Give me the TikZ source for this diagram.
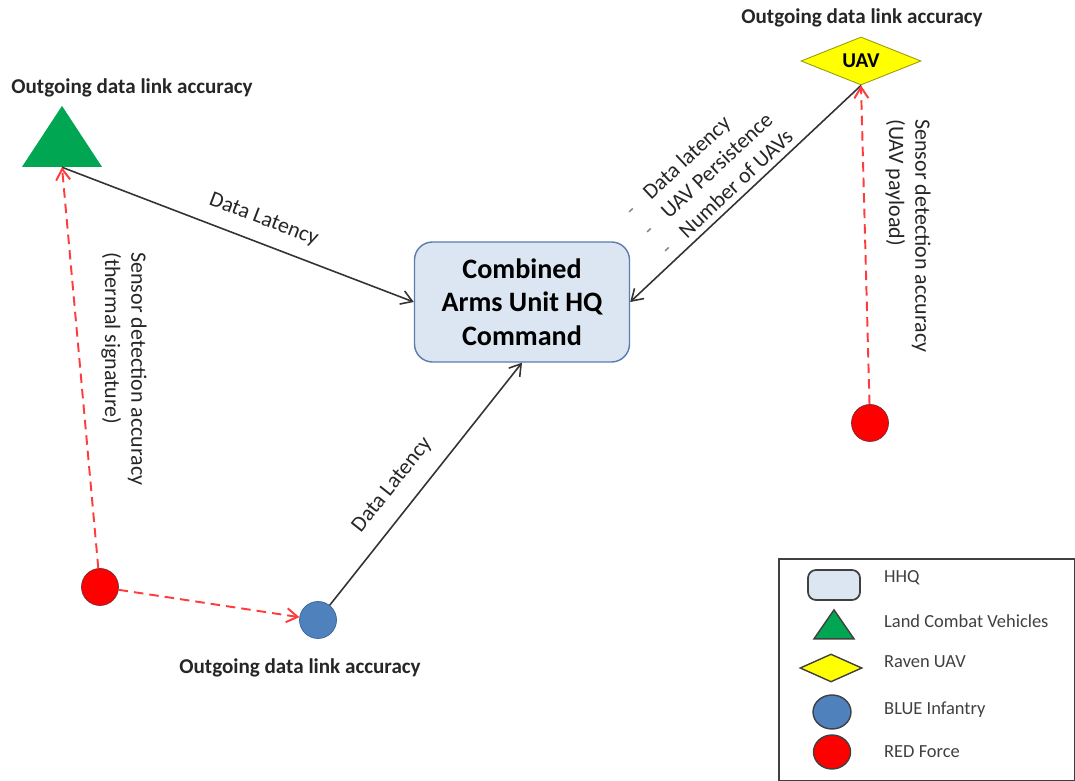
\documentclass[tikz,border=0pt]{standalone}
\usepackage{fontspec}
\setmainfont{Carlito}
\usetikzlibrary{arrows.meta,positioning,shapes.geometric,calc}
\definecolor{hqfill}{HTML}{DCE6F2}
\definecolor{hqborder}{HTML}{5B7CAD}
\definecolor{lcvgreen}{HTML}{00A651}
\definecolor{uavyellow}{HTML}{FFFF00}
\definecolor{uavborder}{HTML}{9A9A10}
\definecolor{bluefill}{HTML}{4F81BD}
\definecolor{blueborder}{HTML}{3A6396}
\definecolor{redfill}{HTML}{FF0000}
\definecolor{redborder}{HTML}{7A2A3A}
\definecolor{sensorred}{HTML}{FF3B3B}
\def \circDiam {7.4mm}
\def \legendTextX {878}
\tikzset{
	hqblock/.style= {draw=hqborder, rectangle, rounded corners=3.6mm, align=center, minimum width=43mm, minimum height=24mm, fill=hqfill, line width=0.8pt, font=\fontsize{16}{19}\selectfont\bfseries},
	lcvblock/.style= {isosceles triangle, isosceles triangle stretches, shape border rotate=90, fill=lcvgreen, inner sep=0pt, minimum width=16mm, minimum height=12.2mm},
	uavblock/.style= {diamond, aspect=2.5, fill=uavyellow, draw=uavborder, line width=0.5pt, inner sep=0pt, minimum width=24mm, minimum height=9.6mm, font=\fontsize{12}{14}\selectfont\bfseries},
	blueblock/.style= {circle, fill=bluefill, draw=blueborder, line width=0.4pt, minimum size=\circDiam, inner sep=0pt},
	redblock/.style= {circle, fill=redfill, draw=redborder, line width=0.4pt, minimum size=\circDiam, inner sep=0pt},
	outlabel/.style= {font=\fontsize{12}{14}\selectfont\bfseries, text=black!85},
	edgelabel/.style= {font=\fontsize{12.5}{15}\selectfont, text=black!85},
	sensorlabel/.style= {font=\fontsize{12.5}{15}\selectfont, text=black!85, align=left, rotate=-90, anchor=north west, inner sep=0pt},
	dataline/.style= {draw=black!80, line width=0.9pt, -{Straight Barb[length=2.2mm,width=2.8mm]}},
	sensorline/.style= {draw=sensorred, line width=1.1pt, dash pattern=on 1.9mm off 1.2mm, -{Straight Barb[length=2.2mm,width=2.8mm]}},
	legendtext/.style= {anchor=west, font=\fontsize{10.5}{12}\selectfont, text=black!75}
}

\begin{document}
\begin{tikzpicture}[x=0.2mm, y=-0.2mm]
	\useasboundingbox (0,0) rectangle (1075,781);

%%%%%%%%%%%%%%%%%%%%% Nodes %%%%%%%%%%%%%%%%%%%%%
	\node [hqblock] (hq) at (522,302) {Combined\\Arms Unit HQ\\Command};
	\node [lcvblock, anchor=apex] (lcv) at (62,105) {};
	\node [uavblock] (uav) at (861,61) {UAV};
	\node [blueblock] (blue) at (318,620) {};
	\node [redblock] (redL) at (100,587) {};
	\node [redblock] (redR) at (870,423) {};

	\node [outlabel] (lcvOut) at (132,88) {Outgoing data link accuracy};
	\node [outlabel] (uavOut) at (862,18) {Outgoing data link accuracy};
	\node [outlabel] (blueOut) at (300,668) {Outgoing data link accuracy};

	\node [sensorlabel] (lcvSensor) at (147,252) {Sensor detection accuracy\\(thermal signature)};
	\node [sensorlabel] (uavSensor) at (931,119) {Sensor detection accuracy\\(UAV payload)};

%%%%%%%%%%%%%%%%%%%%% Links %%%%%%%%%%%%%%%%%%%%%
	\draw [dataline] (lcv.lower side) -- (hq.west) node [edgelabel, pos=0.55, sloped, above=1.5mm] {Data Latency};
	\draw [dataline] (blue) -- (hq.south) node [edgelabel, pos=0.43, sloped, above=2mm] {Data Latency};
	\draw [dataline, {Straight Barb[length=2.2mm,width=2.8mm]}-] (hq.east) -- (uav.south) node [edgelabel, pos=0.46, sloped, above, align=left] {\makebox[5mm][l]{\textcolor{black!50}{-}}Data latency\\\makebox[5mm][l]{\textcolor{black!50}{-}}UAV Persistence\\\makebox[5mm][l]{\textcolor{black!50}{-}}Number of UAVs};

	\draw [sensorline] (redL) -- (lcv.lower side);
	\draw [sensorline] (redL) -- (blue);
	\draw [sensorline] (redR) -- (uav.south);

%%%%%%%%%%%%%%%%%%%%% Legend %%%%%%%%%%%%%%%%%%%%%
	\node [draw=black!75, line width=1pt, rectangle, anchor=north west, minimum width=59.2mm, minimum height=44.4mm, inner sep=0pt] (legend) at (778,558) {};
	\node [hqblock, draw=black!75, line width=1pt, rounded corners=1.6mm, minimum width=10.4mm, minimum height=6mm] (lgHQ) at (834,585) {};
	\node [lcvblock, draw=black!75, line width=0.8pt, minimum width=8mm, minimum height=5.8mm, anchor=apex] (lgLCV) at (834,608) {};
	\node [uavblock, draw=black!75, line width=0.8pt, minimum width=12.4mm, minimum height=5.6mm] (lgUAV) at (831,668) {};
	\node [blueblock, draw=black!75, line width=0.8pt, minimum width=7.6mm, minimum height=6.8mm, ellipse] (lgBlue) at (832,712) {};
	\node [redblock, draw=black!75, line width=0.8pt, minimum width=7.4mm, minimum height=6.8mm, ellipse] (lgRed) at (832,752) {};

	\node [legendtext] at (\legendTextX,578) {HHQ};
	\node [legendtext] at (\legendTextX,621) {Land Combat  Vehicles};
	\node [legendtext] at (\legendTextX,662) {Raven UAV};
	\node [legendtext] at (\legendTextX,710) {BLUE Infantry};
	\node [legendtext] at (\legendTextX,752) {RED Force};

\end{tikzpicture}
\end{document}
